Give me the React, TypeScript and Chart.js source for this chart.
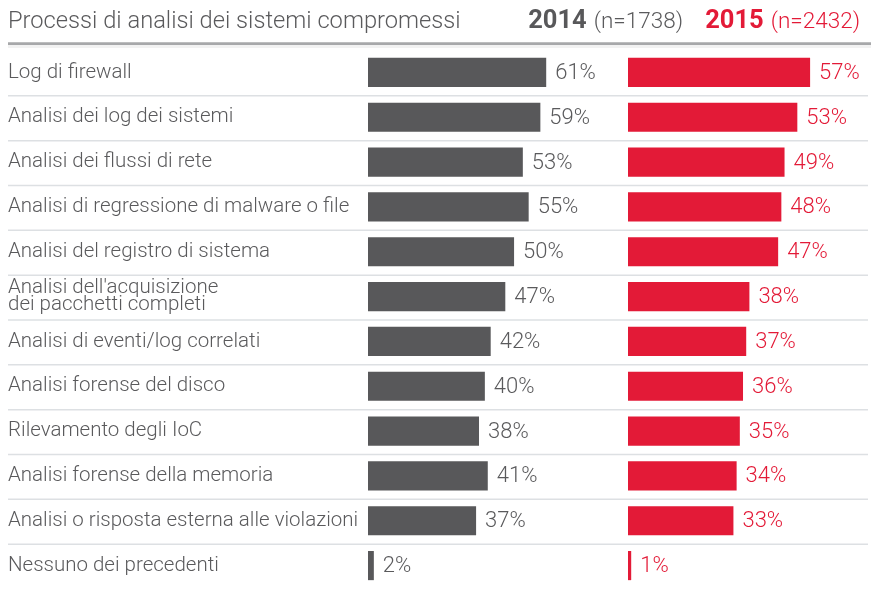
import React, { useEffect, useRef } from 'react';
import { Chart, registerables } from 'chart.js';

Chart.register(...registerables);

// Survey data: share of respondents using each process
const categories: (string | string[])[] = [
  'Log di firewall',
  'Analisi dei log dei sistemi',
  'Analisi dei flussi di rete',
  'Analisi di regressione di malware o file',
  'Analisi del registro di sistema',
  ["Analisi dell'acquisizione", 'dei pacchetti completi'],
  'Analisi di eventi/log correlati',
  'Analisi forense del disco',
  'Rilevamento degli IoC',
  'Analisi forense della memoria',
  'Analisi o risposta esterna alle violazioni',
  'Nessuno dei precedenti',
];
const values2014 = [61, 59, 53, 55, 50, 47, 42, 40, 38, 41, 37, 2];
const values2015 = [57, 53, 49, 48, 47, 38, 37, 36, 35, 34, 33, 1];
const chartTitle = 'Processi di analisi dei sistemi compromessi';
const years = ['2014', '2015'];
const sampleSizes = ['(n=1738)', '(n=2432)'];

const GRAY = '#58585a';
const RED = '#e31a37';
const TEXT = '#5a5a5c';
const FONT = '"Roboto", "Open Sans", sans-serif';

const overlayPlugin = {
  id: 'overlay',
  afterDatasetsDraw(chart: any) {
    const { ctx } = chart;
    const yScale = chart.scales.y;
    const n = chart.data.labels.length;

    ctx.save();

    // row separators
    ctx.strokeStyle = '#dde0e3';
    ctx.lineWidth = 1.5;
    for (let i = 1; i < n; i++) {
      const py = (yScale.getPixelForValue(i - 1) + yScale.getPixelForValue(i)) / 2 + 1;
      ctx.beginPath();
      ctx.moveTo(8, py);
      ctx.lineTo(868, py);
      ctx.stroke();
    }

    // header rule with a soft shadow
    ctx.strokeStyle = 'rgba(0,0,0,0.05)';
    ctx.lineWidth = 3;
    ctx.beginPath();
    ctx.moveTo(8, 46.5);
    ctx.lineTo(871, 46.5);
    ctx.stroke();
    ctx.strokeStyle = '#a7a8aa';
    ctx.lineWidth = 2.7;
    ctx.beginPath();
    ctx.moveTo(8, 43.6);
    ctx.lineTo(871, 43.6);
    ctx.stroke();

    // value labels next to the bars
    ctx.textBaseline = 'middle';
    ctx.textAlign = 'left';
    ctx.font = `300 22px ${FONT}`;
    chart.data.datasets.forEach((ds: any, di: number) => {
      const meta = chart.getDatasetMeta(di);
      ctx.fillStyle = di === 0 ? TEXT : RED;
      meta.data.forEach((bar: any, i: number) => {
        ctx.fillText(`${ds.data[i]}%`, bar.x + 9, bar.y + 1);
      });
    });

    // header texts
    ctx.textBaseline = 'alphabetic';
    ctx.fillStyle = TEXT;
    ctx.font = `300 23.7px ${FONT}`;
    ctx.fillText(chartTitle, 8, 28);

    const rights = [683, 860];
    years.forEach((yr, k) => {
      ctx.font = `300 22.5px ${FONT}`;
      ctx.textAlign = 'right';
      ctx.fillStyle = k === 0 ? TEXT : RED;
      ctx.fillText(sampleSizes[k], rights[k], 28);
      const w = ctx.measureText(sampleSizes[k]).width;
      ctx.font = `700 25.5px ${FONT}`;
      ctx.fillStyle = k === 0 ? GRAY : RED;
      ctx.fillText(yr, rights[k] - w - 7, 28);
    });

    ctx.restore();
  },
};

export default function App() {
  const canvasRef = useRef<HTMLCanvasElement>(null);

  useEffect(() => {
    if (!canvasRef.current) return;
    const chart = new Chart(canvasRef.current, {
      type: 'bar',
      data: {
        labels: categories,
        datasets: [
          {
            label: years[0],
            data: values2014,
            backgroundColor: GRAY,
            xAxisID: 'x',
            grouped: false,
            barPercentage: 0.65,
            categoryPercentage: 1,
          },
          {
            label: years[1],
            data: values2015,
            backgroundColor: RED,
            xAxisID: 'x2',
            grouped: false,
            barPercentage: 0.65,
            categoryPercentage: 1,
          },
        ],
      },
      options: {
        indexAxis: 'y',
        animation: false,
        responsive: true,
        maintainAspectRatio: false,
        layout: { padding: { left: 8, right: 8, top: 50, bottom: 2 } },
        plugins: {
          legend: { display: false },
          tooltip: { enabled: false },
          title: { display: false },
        },
        scales: {
          y: {
            type: 'category',
            grid: { display: false },
            border: { display: false },
            afterFit: (scale: any) => {
              scale.width = 360;
              scale.paddingTop = 0;
              scale.paddingBottom = 0;
            },
            ticks: {
              crossAlign: 'far',
              color: TEXT,
              padding: 0,
              autoSkip: false,
              font: { family: FONT, size: 20.5, weight: '300', lineHeight: 0.84 },
            },
          },
          x: {
            type: 'linear',
            position: 'bottom',
            min: 0,
            max: 89,
            display: false,
            stack: 'years',
            stackWeight: 260,
          },
          x2: {
            type: 'linear',
            position: 'bottom',
            min: 0,
            max: 77,
            display: false,
            stack: 'years',
            stackWeight: 246,
          },
        },
      },
      plugins: [overlayPlugin],
    } as any);
    return () => chart.destroy();
  }, []);

  return (
    <div style={{ position: 'fixed', left: 0, top: 0, width: 882, height: 590, background: '#fff' }}>
      <canvas ref={canvasRef} />
    </div>
  );
}
